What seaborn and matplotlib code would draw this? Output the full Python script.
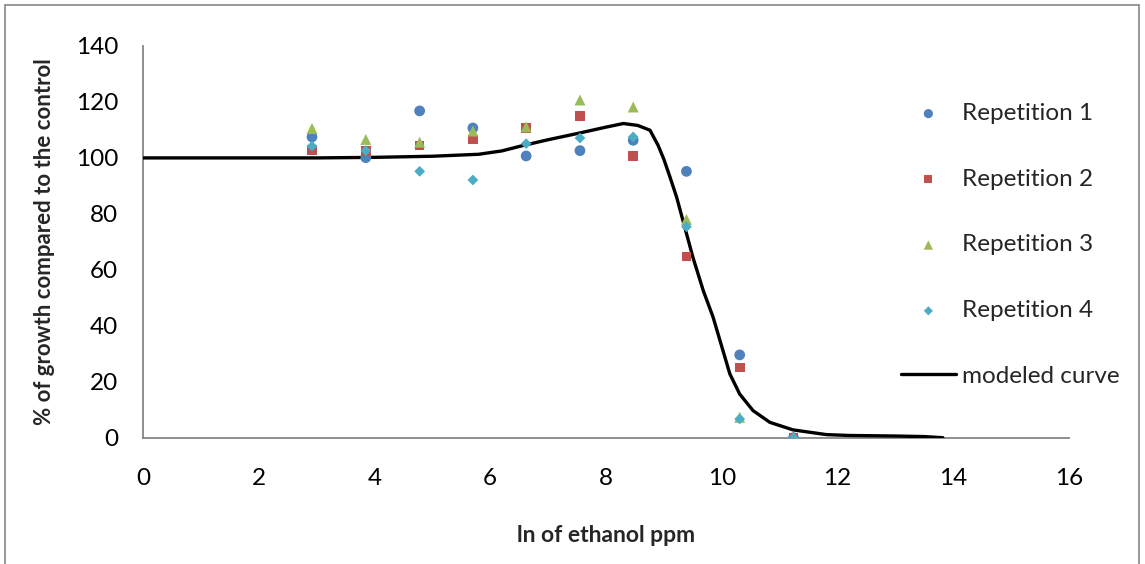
import matplotlib
matplotlib.use("Agg")
import matplotlib.pyplot as plt
import seaborn as sns
import pandas as pd
from matplotlib.patches import Rectangle

# ---- data ----
ln_ppm = [2.92, 3.85, 4.78, 5.70, 6.62, 7.55, 8.47, 9.39, 10.31, 11.24]
rep1 = [107.5, 100.1, 116.8, 110.7, 100.7, 102.6, 106.3, 95.2, 29.6, 0.0]
rep2 = [102.9, 102.5, 104.5, 106.6, 110.7, 114.9, 100.7, 64.8, 25.1, 0.0]
rep3 = [110.5, 106.6, 105.6, 109.6, 111.1, 120.7, 118.2, 78.0, 7.3, 0.0]
rep4 = [104.2, 102.6, 95.2, 92.1, 105.1, 107.1, 107.5, 75.4, 6.7, 0.0]
series_names = ["Repetition 1", "Repetition 2", "Repetition 3", "Repetition 4"]

curve_x = [0, 2, 3, 4, 5, 5.8, 6.2, 6.56, 7.0, 7.5, 8.0, 8.3, 8.55, 8.76,
           8.9, 9.0, 9.1, 9.22, 9.36, 9.5, 9.68, 9.85, 9.97, 10.14, 10.31,
           10.54, 10.83, 11.23, 11.81, 12.2, 13.0, 13.5, 13.82]
curve_y = [100, 100, 100, 100.2, 100.6, 101.3, 102.5, 104.4, 106.5, 108.7,
           111.0, 112.3, 111.6, 109.9, 104.5, 99.5, 93.5, 86.0, 75.3, 64.6,
           52.6, 43.1, 34.7, 22.8, 15.6, 9.7, 5.5, 2.8, 1.1, 0.8, 0.6, 0.4, 0.0]
curve_name = "modeled curve"

x_ticks = [0, 2, 4, 6, 8, 10, 12, 14, 16]
y_ticks = [0, 20, 40, 60, 80, 100, 120, 140]
x_label = "ln of ethanol ppm"
y_label = "% of growth compared to the control"

# ---- styling ----
sns.set_theme(style="white")
plt.rcParams["font.family"] = ["Lato", "DejaVu Sans"]

colors = ["#4F81BD", "#C0504D", "#9BBB59", "#4BACC6"]
markers = ["o", "s", "^", "D"]
sizes = [60, 48, 62, 30]

W, H = 1145, 564
fig = plt.figure(figsize=(W / 100, H / 100), dpi=100)
ax = fig.add_axes([143 / W, (H - 437.7) / H, (1069 - 143) / W, (437.7 - 46) / H])

for vals, name, c, m, s in zip([rep1, rep2, rep3, rep4], series_names, colors, markers, sizes):
    df = pd.DataFrame({"x": ln_ppm, "y": vals})
    sns.scatterplot(data=df, x="x", y="y", ax=ax, color=c, marker=m, s=s,
                    edgecolor="none", label=name, zorder=3)

cdf = pd.DataFrame({"x": curve_x, "y": curve_y})
sns.lineplot(data=cdf, x="x", y="y", ax=ax, color="black", linewidth=2.4,
             sort=False, estimator=None, label=curve_name, zorder=2)

ax.set_xlim(0, 16)
ax.set_ylim(0, 140)
ax.set_xticks(x_ticks)
ax.set_yticks(y_ticks)
ax.set_xticklabels([str(t) for t in x_ticks])
ax.set_yticklabels([str(t) for t in y_ticks])

for sp in ["top", "right"]:
    ax.spines[sp].set_visible(False)
for sp in ["left", "bottom"]:
    ax.spines[sp].set_color("#868686")
    ax.spines[sp].set_linewidth(1.3)
    ax.spines[sp].set_zorder(1)

ax.tick_params(axis="both", which="major", direction="inout", length=12,
               width=1.3, color="#868686", labelsize=17.5, labelcolor="black")
ax.tick_params(axis="x", pad=16)
ax.tick_params(axis="y", pad=12)

ax.set_xlabel(x_label, fontsize=16.5, fontweight="bold", labelpad=26)
ax.set_ylabel(y_label, fontsize=16, fontweight="bold", labelpad=15)

leg = ax.legend(loc="upper left", bbox_to_anchor=(901 / W, (H - 103) / H),
                bbox_transform=fig.transFigure, frameon=False, fontsize=17.5,
                labelspacing=1.84, handlelength=2.25, handletextpad=0.25,
                markerscale=0.85, borderaxespad=0, borderpad=0)

# outer chart border
fig.patches.append(Rectangle((5 / W, -0.01), (1139 - 5) / W, (H - 5) / H + 0.01,
                             transform=fig.transFigure, fill=False,
                             edgecolor="#868686", linewidth=1.2))

fig.savefig("out.png", dpi=100)
